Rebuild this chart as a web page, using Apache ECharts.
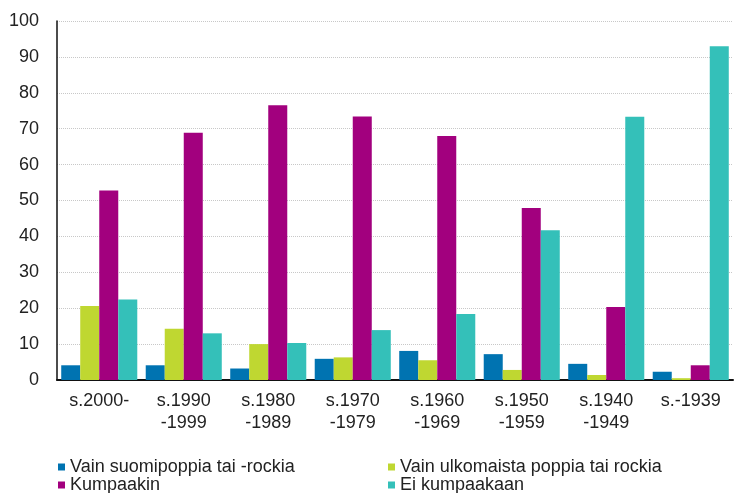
<!DOCTYPE html>
<html>
<head>
<meta charset="utf-8">
<script src="https://cdn.jsdelivr.net/npm/echarts@6/dist/echarts.min.js"></script>
<style>
  html, body { margin: 0; padding: 0; background: #fff; }
  #chart { width: 734px; height: 493px; }
</style>
</head>
<body>
<div id="chart"></div>
<script>
// decades of birth
const categories = ['s.2000-', 's.1990\n-1999', 's.1980\n-1989', 's.1970\n-1979',
  's.1960\n-1969', 's.1950\n-1959', 's.1940\n-1949', 's.-1939']

const seriesNames = ['Vain suomipoppia tai -rockia', 'Vain ulkomaista poppia tai rockia',
  'Kumpaakin', 'Ei kumpaakaan']

const onlyFinnish = [4.1, 4.1, 3.2, 5.9, 8.1, 7.2, 4.5, 2.3]
const onlyForeign = [20.6, 14.3, 10.0, 6.3, 5.5, 2.8, 1.4, 0.5]
const both = [52.8, 68.9, 76.5, 73.4, 68.0, 47.9, 20.3, 4.1]
const neither = [22.4, 13.0, 10.3, 13.9, 18.4, 41.7, 73.3, 93.0]

const COLORS = ['#0073b1', '#bfd731', '#a2007e', '#34c0b9']
const FONT = '"Liberation Sans", Arial, sans-serif'

const chart = echarts.init(document.getElementById('chart'))

const values = [onlyFinnish, onlyForeign, both, neither]

const legendBase = {
  orient: 'vertical',
  top: 458,
  height: 60,
  padding: 0,
  itemWidth: 7,
  itemHeight: 7,
  itemGap: 0,
  icon: 'rect',
  textStyle: { fontFamily: FONT, fontSize: 18, lineHeight: 18, color: '#222' }
}

chart.setOption({
  animation: false,
  grid: { left: 57, right: 1, top: 21, bottom: 113 },
  legend: [
    { ...legendBase, left: 58, data: [seriesNames[0], seriesNames[2]] },
    { ...legendBase, left: 388, data: [seriesNames[1], seriesNames[3]] }
  ],
  xAxis: {
    type: 'category',
    data: categories,
    axisLine: { lineStyle: { color: '#111', width: 2 } },
    axisTick: { show: false },
    axisLabel: {
      fontFamily: FONT, fontSize: 18, lineHeight: 22, color: '#222', margin: 10,
      interval: 0
    }
  },
  yAxis: {
    type: 'value',
    min: 0,
    max: 100,
    interval: 10,
    axisLine: { show: true, lineStyle: { color: '#111', width: 1.5 } },
    axisTick: { show: false },
    axisLabel: { fontFamily: FONT, fontSize: 18, color: '#222', margin: 18 },
    splitLine: { lineStyle: { color: '#c8c8c8', type: 'dotted', width: 1 } }
  },
  series: seriesNames.map((name, i) => ({
    name,
    type: 'bar',
    data: values[i],
    barGap: '0%',
    barCategoryGap: '10%',
    itemStyle: { color: COLORS[i] }
  }))
})
</script>
</body>
</html>
